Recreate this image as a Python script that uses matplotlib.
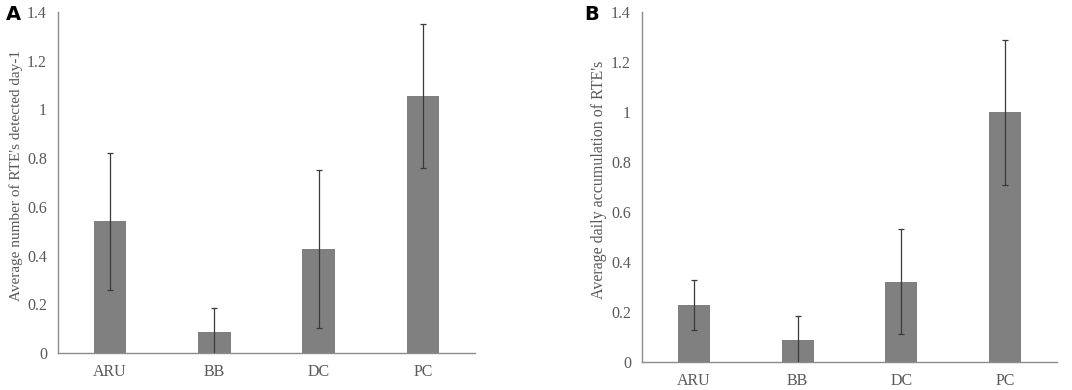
import numpy as np
import matplotlib.pyplot as plt

categories = ['ARU', 'BB', 'DC', 'PC']

# panel A: average number of RTE's detected per day
detected_mean = [0.54, 0.086, 0.426, 1.054]
detected_err = [0.28, 0.10, 0.325, 0.295]

# panel B: average daily accumulation
accum_mean = [0.228, 0.088, 0.322, 1.0]
accum_err = [0.10, 0.097, 0.21, 0.29]

yticks = [0, 0.2, 0.4, 0.6, 0.8, 1, 1.2, 1.4]
ytick_labels = ['0', '0.2', '0.4', '0.6', '0.8', '1', '1.2', '1.4']

bar_col = '#808080'
axis_col = '#8c8c8c'
text_col = '#595959'

plt.rcParams['font.family'] = ['Liberation Serif', 'DejaVu Serif']

fig = plt.figure(figsize=(10.72, 3.9), dpi=100)
W, H = 1072, 390


def panel(rect, means, errs, ylabel, ylab_size, ylab_x, letter, letter_x):
    left, right, top, bottom = rect
    ax = fig.add_axes([left / W, 1 - bottom / H, (right - left) / W, (bottom - top) / H])
    x = np.arange(len(categories))
    ax.bar(x, means, width=0.31, color=bar_col, zorder=2)
    ax.errorbar(x, means, yerr=errs, fmt='none', ecolor='#3a3a3a',
                elinewidth=0.9, capsize=2.5, capthick=0.9, zorder=3)
    ax.set_xlim(-0.5, 3.5)
    ax.set_ylim(0, 1.4)
    ax.set_xticks(x)
    ax.set_xticklabels(categories)
    ax.set_yticks(yticks)
    ax.set_yticklabels(ytick_labels)
    ax.tick_params(length=0, labelsize=11.5, colors=text_col)
    ax.tick_params(axis='y', pad=8)
    ax.tick_params(axis='x', pad=8)
    for s in ['top', 'right']:
        ax.spines[s].set_visible(False)
    for s in ['left', 'bottom']:
        ax.spines[s].set_color(axis_col)
        ax.spines[s].set_linewidth(1.0)
    ax.set_ylabel(ylabel, fontsize=ylab_size, color=text_col)
    ax.yaxis.set_label_coords((ylab_x - left) / (right - left), 0.52)
    fig.text(letter_x / W, 1 - 14 / H, letter, fontsize=14, fontweight='bold',
             family='DejaVu Sans', ha='left', va='center')
    return ax


panel((58, 475, 12, 353), detected_mean, detected_err,
      "Average number of RTE's detected day-1", 11, 23, 'A', 6)
panel((642, 1057, 12, 362), accum_mean, accum_err,
      "Average daily accumulation of RTE's", 11.5, 607, 'B', 584)

fig.savefig('out.png', dpi=100)
